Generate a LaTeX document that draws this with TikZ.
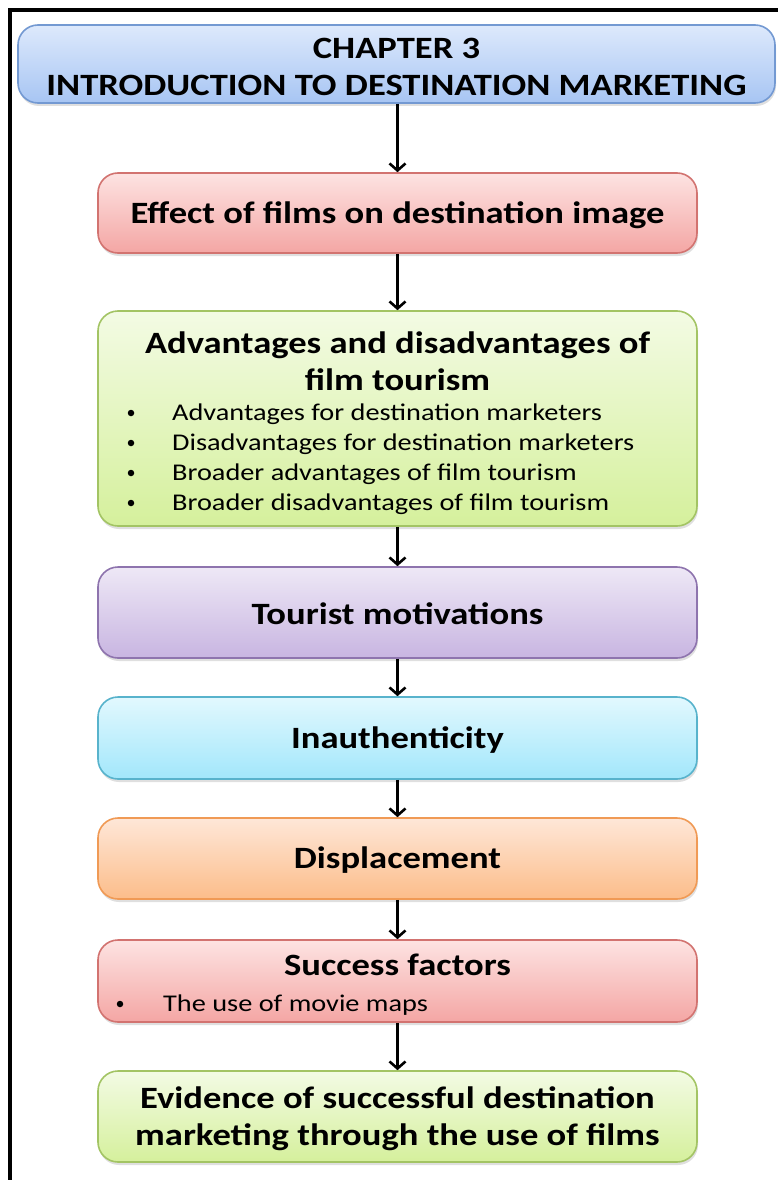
\documentclass[tikz,border=0pt]{standalone}
\usepackage{fontspec}
\setmainfont{Carlito}[FakeStretch=1.18]
\usetikzlibrary{arrows.meta,shadows}
\definecolor{bluetop}{HTML}{DDE9FC}\definecolor{bluebot}{HTML}{A7C5F3}\definecolor{blueline}{HTML}{7399D2}
\definecolor{redtop}{HTML}{FDE3E2}\definecolor{redbot}{HTML}{F4A6A4}\definecolor{redline}{HTML}{D27370}
\definecolor{greentop}{HTML}{F3FBE4}\definecolor{greenbot}{HTML}{D5F09C}\definecolor{greenline}{HTML}{A3C464}
\definecolor{purptop}{HTML}{EEE8F6}\definecolor{purpbot}{HTML}{C8B5E1}\definecolor{purpline}{HTML}{8E74AE}
\definecolor{cyantop}{HTML}{E2F8FE}\definecolor{cyanbot}{HTML}{A2E7FB}\definecolor{cyanline}{HTML}{58B3CC}
\definecolor{orgtop}{HTML}{FEE7D8}\definecolor{orgbot}{HTML}{FCBD8A}\definecolor{orgline}{HTML}{F09A55}
\tikzset{
  box/.style={rounded corners=20pt, line width=1.6pt, inner sep=0pt,
    drop shadow={opacity=0.25, shadow xshift=1pt, shadow yshift=-3pt}},
  bluebox/.style={box, draw=blueline, top color=bluetop, bottom color=bluebot},
  redbox/.style={box, draw=redline, top color=redtop, bottom color=redbot},
  greenbox/.style={box, draw=greenline, top color=greentop, bottom color=greenbot},
  purpbox/.style={box, draw=purpline, top color=purptop, bottom color=purpbot},
  cyanbox/.style={box, draw=cyanline, top color=cyantop, bottom color=cyanbot},
  orgbox/.style={box, draw=orgline, top color=orgtop, bottom color=orgbot},
  head/.style={font=\fontsize{31}{37}\selectfont\bfseries, align=center, inner sep=0pt},
  item/.style={font=\fontsize{24}{28}\selectfont, anchor=west, inner sep=0pt},
  dot/.style={fill=black, circle, inner sep=0pt, minimum size=6.5pt},
  arr/.style={line width=2.6pt, -{Straight Barb[length=7pt,width=16pt,line width=2.6pt]}},
}
\begin{document}
\begin{tikzpicture}[x=1pt,y=-1pt]
\useasboundingbox (0,0) rectangle (777,1180);
\fill[white] (0,0) rectangle (777,1180);
\draw[line width=4pt] (10,1185) -- (10,10) -- (785,10);
% boxes
\node[bluebox, minimum width=757pt, minimum height=78pt] (chap) at (396.5,64) {};
\node[redbox, minimum width=599pt, minimum height=80pt] (eff) at (397.5,213) {};
\node[greenbox, minimum width=599pt, minimum height=215pt] (adv) at (397.5,418.5) {};
\node[purpbox, minimum width=599pt, minimum height=91pt] (mot) at (397.5,612.5) {};
\node[cyanbox, minimum width=599pt, minimum height=82pt] (inau) at (397.5,738) {};
\node[orgbox, minimum width=599pt, minimum height=81pt] (disp) at (397.5,858.5) {};
\node[redbox, minimum width=599pt, minimum height=82pt] (succ) at (397.5,981) {};
\node[greenbox, minimum width=599pt, minimum height=91pt] (evid) at (397.5,1116.5) {};
% texts
\node[head] (chapt) at (396.5,67) {CHAPTER 3\\INTRODUCTION TO DESTINATION MARKETING};
\node[head] (efft) at (397.5,215) {Effect of films on destination image};
\node[head] (advt) at (397.5,361) {Advantages and disadvantages of\\film tourism};
\node[dot] (b1) at (131,413) {};
\node[dot] (b2) at (131,443) {};
\node[dot] (b3) at (131,473) {};
\node[dot] (b4) at (131,503) {};
\node[item] (i1) at (172,414) {Advantages for destination marketers};
\node[item] (i2) at (172,444) {Disadvantages for destination marketers};
\node[item] (i3) at (172,474) {Broader advantages of film tourism};
\node[item] (i4) at (172,504) {Broader disadvantages of film tourism};
\node[head] (mott) at (397.5,614) {Tourist motivations};
\node[head] (inaut) at (397.5,740) {Inauthenticity};
\node[head] (dispt) at (397.5,860) {Displacement};
\node[head] (succt) at (397.5,965) {Success factors};
\node[dot] (b5) at (120,1004) {};
\node[item] (i5) at (163,1005) {The use of movie maps};
\node[head] (evidt) at (397.5,1119) {Evidence of successful destination\\marketing through the use of films};
% arrows
\draw[arr] (chap.south -| eff.north) -- (eff.north);
\draw[arr] (eff) -- (adv);
\draw[arr] (adv) -- (mot);
\draw[arr] (mot) -- (inau);
\draw[arr] (inau) -- (disp);
\draw[arr] (disp) -- (succ);
\draw[arr] (succ) -- (evid);
\end{tikzpicture}
\end{document}
